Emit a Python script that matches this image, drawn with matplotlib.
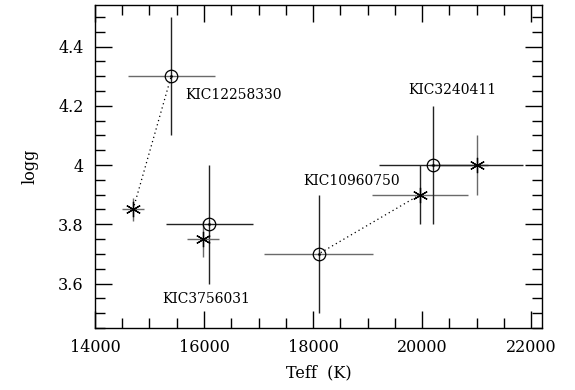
import numpy as np
import matplotlib.pyplot as plt
from matplotlib.ticker import MultipleLocator, FormatStrFormatter, FuncFormatter

plt.rcParams['font.family'] = ['DejaVu Serif']

# spectroscopic solution (open circles) per star
names = ['KIC12258330', 'KIC3756031', 'KIC10960750', 'KIC3240411']
teff_spec = [15400, 16100, 18100, 20200]
teff_spec_err = [800, 800, 1000, 1000]
logg_spec = [4.3, 3.8, 3.7, 4.0]
logg_spec_err = [0.2, 0.2, 0.2, 0.2]

# seismic / model solution (asterisks)
teff_mod = [14700, 15980, 19960, 21000]
teff_mod_err = [200, 300, 880, 850]
logg_mod = [3.85, 3.75, 3.9, 4.0]
logg_mod_err = [0.04, 0.06, 0.1, 0.1]

# pairs joined by a dotted line
linked = [0, 2]

dark = '#222222'
grey = '#6a6a6a'
# colours for (spec x, spec y, model x, model y) error bars
bar_cols = [
    (grey, dark, grey, grey),
    (dark, dark, grey, grey),
    (grey, dark, grey, dark),
    (dark, dark, dark, grey),
]

fig = plt.figure(figsize=(5.75, 3.9), dpi=100)
ax = fig.add_axes([0.165, 0.159, 0.778, 0.828])

for i in range(len(names)):
    cx, cy, mx, my = bar_cols[i]
    ax.errorbar(teff_spec[i], logg_spec[i], xerr=teff_spec_err[i], fmt='none',
                ecolor=cx, elinewidth=1.0, capsize=0)
    ax.errorbar(teff_spec[i], logg_spec[i], yerr=logg_spec_err[i], fmt='none',
                ecolor=cy, elinewidth=1.0, capsize=0)
    ax.errorbar(teff_mod[i], logg_mod[i], xerr=teff_mod_err[i], fmt='none',
                ecolor=mx, elinewidth=1.0, capsize=0)
    ax.errorbar(teff_mod[i], logg_mod[i], yerr=logg_mod_err[i], fmt='none',
                ecolor=my, elinewidth=1.0, capsize=0)

for i in linked:
    ax.plot([teff_mod[i], teff_spec[i]], [logg_mod[i], logg_spec[i]],
            ls=(0, (1, 2.5)), color='black', lw=0.9)

ax.plot(teff_spec, logg_spec, 'o', mfc='none', mec='black', ms=9, mew=0.9)
ax.plot(teff_spec, logg_spec, '.', color='black', ms=2)
ax.plot(teff_mod, logg_mod, ls='none', marker=(6, 2, 0), color='black',
        ms=11, mew=0.9)
ax.plot(teff_mod, logg_mod, '.', color='black', ms=2)

label_pos = [(15650, 4.237, 'left'), (16050, 3.548, 'center'),
             (18710, 3.947, 'center'), (20550, 4.252, 'center')]
for name, (lx, ly, ha) in zip(names, label_pos):
    ax.text(lx, ly, name, fontsize=10, ha=ha, va='center')

ax.set_xlim(14000, 22200)
ax.set_ylim(3.45, 4.54)
ax.xaxis.set_major_locator(MultipleLocator(2000))
ax.xaxis.set_minor_locator(MultipleLocator(500))
ax.yaxis.set_major_locator(MultipleLocator(0.2))
ax.yaxis.set_minor_locator(MultipleLocator(0.05))
ax.yaxis.set_major_formatter(FuncFormatter(lambda v, p: '%g' % round(v, 2)))
ax.tick_params(which='both', direction='in', top=True, right=True,
               labelsize=11.5, width=1.0, pad=8)
ax.tick_params(which='major', length=12)
ax.tick_params(which='minor', length=7)
for s in ax.spines.values():
    s.set_linewidth(1.0)

ax.set_xlabel('Teff  (K)', fontsize=11.5, labelpad=6)
ax.set_ylabel('logg', fontsize=11.5, labelpad=14)

fig.savefig('out.png', dpi=100)
